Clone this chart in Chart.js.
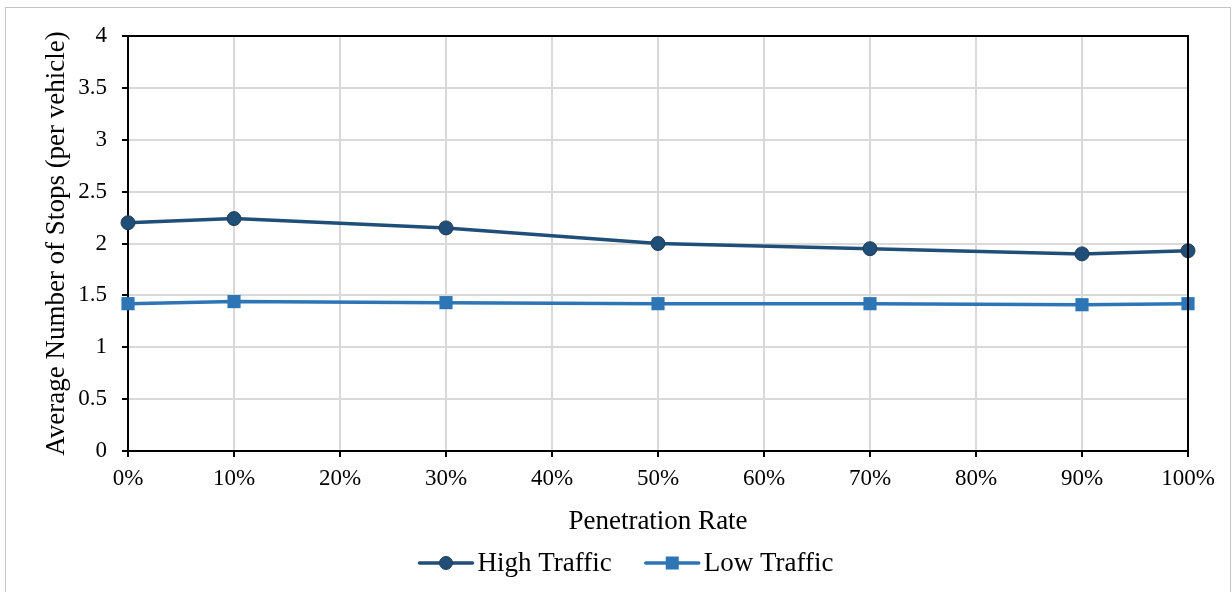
<!DOCTYPE html>
<html>
<head>
<meta charset="utf-8">
<script src="https://cdn.jsdelivr.net/npm/chart.js@4/dist/chart.umd.min.js"></script>
<style>
  html, body { margin: 0; padding: 0; background: #ffffff; }
  #wrap { position: absolute; left: 0; top: 0; width: 1232px; height: 592px; }
</style>
</head>
<body>
<div id="wrap"><canvas id="chart" width="1232" height="592"></canvas></div>
<script>
// Penetration rate of connected vehicles (%) and average stops per vehicle
const penetration = [0, 10, 30, 50, 70, 90, 100];
const highTraffic = [2.20, 2.24, 2.15, 2.00, 1.95, 1.90, 1.93];
const lowTraffic  = [1.42, 1.44, 1.43, 1.42, 1.42, 1.41, 1.42];

const seriesNames = ['High Traffic', 'Low Traffic'];
const xAxisTitle = 'Penetration Rate';
const yAxisTitle = 'Average Number of Stops (per vehicle)';

const SERIF = "'Liberation Serif', 'Times New Roman', serif";
const HIGH_COLOR = '#1f4e79';
const LOW_COLOR = '#2e75b6';

const toPoints = (xs, ys) => xs.map((x, i) => ({ x: x, y: ys[i] }));

// Outer frame, top/right plot border and a line+marker legend
const decorations = {
  id: 'decorations',
  beforeDraw(chart) {
    const ctx = chart.ctx;
    ctx.save();
    ctx.fillStyle = '#ffffff';
    ctx.fillRect(0, 0, chart.width, chart.height);
    ctx.strokeStyle = '#c4c4c4';
    ctx.lineWidth = 1;
    ctx.strokeRect(5.5, 7.5, 1225, 600);
    ctx.restore();
  },
  afterDraw(chart) {
    const ctx = chart.ctx;
    const a = chart.chartArea;
    ctx.save();
    ctx.strokeStyle = '#000000';
    ctx.lineWidth = 2;
    ctx.beginPath();
    ctx.moveTo(a.left - 1, a.top);
    ctx.lineTo(a.right, a.top);
    ctx.lineTo(a.right, a.bottom);
    ctx.stroke();

    // legend
    ctx.font = '27px ' + SERIF;
    const iconW = 55, gap = 4, itemGap = 33;
    const items = chart.data.datasets.map(ds => ({
      ds: ds, w: ctx.measureText(ds.label).width
    }));
    let total = 0;
    items.forEach((it, i) => { total += iconW + gap + it.w + (i ? itemGap : 0); });
    let x = chart.width / 2 + 10 - total / 2;
    const y = 563;
    items.forEach((it, i) => {
      if (i) x += itemGap;
      const ds = it.ds;
      ctx.strokeStyle = ds.borderColor;
      ctx.lineWidth = ds.borderWidth;
      ctx.lineCap = 'round';
      ctx.beginPath();
      ctx.moveTo(x + 1, y);
      ctx.lineTo(x + iconW - 1, y);
      ctx.stroke();
      const cx = x + iconW / 2;
      ctx.fillStyle = ds.pointBackgroundColor;
      ctx.strokeStyle = ds.pointBorderColor;
      ctx.lineWidth = ds.pointBorderWidth;
      if (ds.pointStyle === 'circle') {
        ctx.beginPath();
        ctx.arc(cx, y, 6.5, 0, Math.PI * 2);
        ctx.fill();
        ctx.stroke();
      } else {
        ctx.fillRect(cx - 6.5, y - 6.5, 13, 13);
      }
      ctx.fillStyle = '#000000';
      ctx.textBaseline = 'middle';
      ctx.textAlign = 'left';
      ctx.fillText(ds.label, x + iconW + gap, y + 1);
      x += iconW + gap + it.w;
    });
    ctx.restore();
  }
};

new Chart(document.getElementById('chart'), {
  type: 'line',
  data: {
    datasets: [
      {
        label: seriesNames[0],
        data: toPoints(penetration, highTraffic),
        borderColor: HIGH_COLOR,
        backgroundColor: HIGH_COLOR,
        borderWidth: 3.5,
        pointStyle: 'circle',
        pointRadius: 7,
        pointHoverRadius: 7,
        pointBackgroundColor: HIGH_COLOR,
        pointBorderColor: '#2a3b4e',
        pointBorderWidth: 1,
        tension: 0,
        clip: false
      },
      {
        label: seriesNames[1],
        data: toPoints(penetration, lowTraffic),
        borderColor: LOW_COLOR,
        backgroundColor: LOW_COLOR,
        borderWidth: 3.5,
        pointStyle: 'rect',
        pointRadius: 9.3,
        pointHoverRadius: 9.3,
        pointBackgroundColor: LOW_COLOR,
        pointBorderColor: LOW_COLOR,
        pointBorderWidth: 0,
        tension: 0,
        clip: false
      }
    ]
  },
  options: {
    responsive: false,
    animation: false,
    devicePixelRatio: 1,
    layout: { padding: { left: 6, top: 36, right: 44, bottom: 0 } },
    plugins: {
      legend: { display: false },
      tooltip: { enabled: false }
    },
    scales: {
      x: {
        type: 'linear',
        min: 0,
        max: 100,
        afterFit: s => { s.height = 141; },
        ticks: {
          stepSize: 10,
          callback: v => v + '%',
          color: '#000000',
          font: { family: SERIF, size: 23 },
          padding: 8,
          maxRotation: 0
        },
        grid: {
          color: '#d9d9d9',
          lineWidth: 2,
          tickColor: '#000000',
          tickLength: 6,
          tickWidth: 2
        },
        border: { color: '#000000', width: 2 },
        title: {
          display: true,
          text: xAxisTitle,
          color: '#000000',
          font: { family: SERIF, size: 27 },
          padding: { top: 0, bottom: 54 }
        }
      },
      y: {
        min: 0,
        max: 4,
        afterFit: s => { s.width = 122; },
        ticks: {
          stepSize: 0.5,
          callback: v => String(v),
          color: '#000000',
          font: { family: SERIF, size: 23 },
          padding: 15
        },
        grid: {
          color: '#d9d9d9',
          lineWidth: 2,
          tickColor: '#000000',
          tickLength: 6,
          tickWidth: 2
        },
        border: { color: '#000000', width: 2 },
        title: {
          display: true,
          text: yAxisTitle,
          color: '#000000',
          font: { family: SERIF, size: 27 },
          padding: { top: 35, bottom: 0 }
        }
      }
    }
  },
  plugins: [decorations]
});
</script>
</body>
</html>
